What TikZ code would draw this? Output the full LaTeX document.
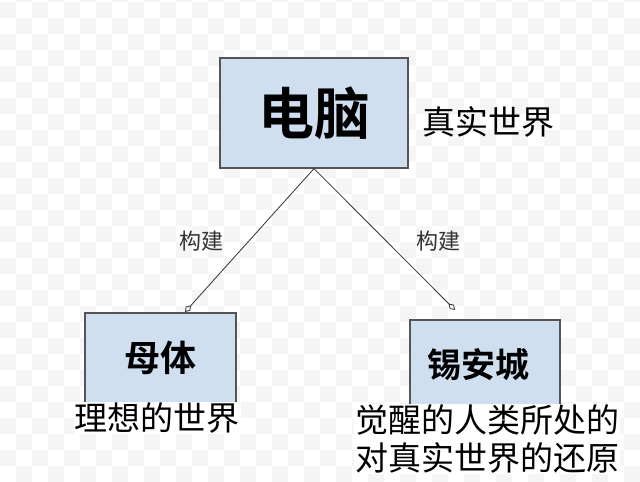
\documentclass[tikz,border=0pt]{standalone}
\usepackage{fontspec}
\newfontfamily\cjk{Noto Sans CJK SC}
\newfontfamily\cjkb{Noto Sans CJK SC Bold}
\usetikzlibrary{arrows.meta}
\definecolor{boxfill}{HTML}{CFDFF0}
\definecolor{boxline}{HTML}{555555}
\tikzset{
 box/.style={draw=boxline,line width=1.2pt,fill=boxfill,inner sep=0pt},
 lab/.style={font=\cjk\fontsize{33}{38}\selectfont,inner sep=1pt},
 elab/.style={font=\cjk\fontsize{22}{26}\selectfont,text=black!80},
 conn/.style={draw=black!80,line width=0.8pt,-{Diamond[open,length=9pt,width=6pt]}}
}
\begin{document}
\begin{tikzpicture}[x=1pt,y=1pt]
\useasboundingbox (0,0) rectangle (640,482);
\fill[white] (0,0) rectangle (640,482);
\foreach \i in {0,...,39}{\foreach \j in {0,...,30}{
  \pgfmathparse{mod(\i+\j,2)}
  \ifdim\pgfmathresult pt>0.5pt \fill[black!4] (\i*16,\j*16) rectangle ++(16,16);\fi}}
\node[box,minimum width=188pt,minimum height=110pt] (pc) at (314,369) {};
\node[font=\cjkb\fontsize{56}{60}\selectfont] at (pc) {电脑};
\node[lab] (real) at (488,360) {真实世界};
\node[box,minimum width=151pt,minimum height=92pt] (mt) at (160.5,123) {};
\node[font=\cjkb\fontsize{36}{40}\selectfont] at (160.5,124) {母体};
\node[box,minimum width=150pt,minimum height=90pt] (xa) at (485,117) {};
\node[font=\cjkb\fontsize{34}{38}\selectfont] at (478,117) {锡安城};
\node[lab,fill=white] (l1) at (157,64) {理想的世界};
\node[lab,fill=white,align=center] (l2) at (487,43) {觉醒的人类所处的\\对真实世界的还原};
\draw[conn] (pc.south) -- (185,170);
\draw[conn] (pc.south) -- (455,172);
\node[elab] at (201,241) {构建};
\node[elab] at (438,241) {构建};
\end{tikzpicture}
\end{document}
